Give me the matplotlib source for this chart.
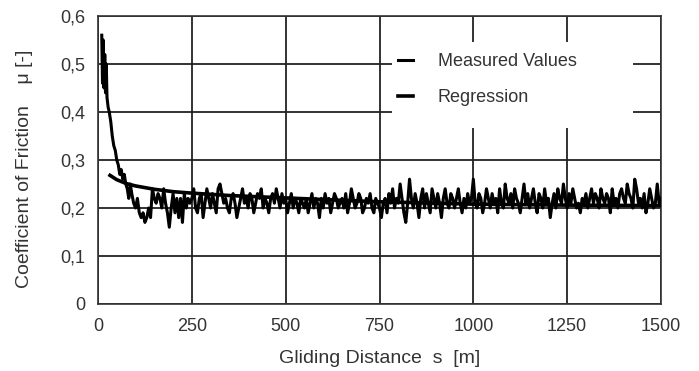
import matplotlib
matplotlib.use("Agg")
import matplotlib.pyplot as plt
from matplotlib.ticker import FuncFormatter
from matplotlib.patches import Rectangle

plt.rcParams['font.family'] = ['Liberation Sans', 'DejaVu Sans']

# Measured values: distance (m) and coefficient of friction (run-in part)
meas_x = [10, 12, 14, 16, 18, 20, 22, 24, 27, 30, 34, 38, 42, 46, 50, 54, 58, 62, 66, 70,
          74, 78, 82, 86, 90, 95, 100, 105, 110, 115, 120, 125, 130, 135, 140, 145, 150,
          155, 160, 165, 170, 175, 180, 185, 190, 195, 200, 205, 210, 215, 220, 225, 230,
          235, 240, 245]
meas_y = [0.56, 0.46, 0.55, 0.45, 0.52, 0.44, 0.50, 0.43, 0.41, 0.40, 0.38, 0.35, 0.33, 0.32,
          0.30, 0.29, 0.27, 0.28, 0.26, 0.27, 0.25, 0.24, 0.22, 0.25, 0.23, 0.21, 0.20, 0.22,
          0.19, 0.18, 0.19, 0.17, 0.18, 0.20, 0.18, 0.24, 0.22, 0.21, 0.23, 0.22, 0.20, 0.24,
          0.21, 0.19, 0.16, 0.20, 0.23, 0.19, 0.22, 0.18, 0.22, 0.17, 0.23, 0.20, 0.22, 0.21]

# Measured values, steady part (every 5 m from 250 to 1500 m)
meas_x2 = list(range(250, 1501, 5))
meas_y2 = [0.22, 0.24, 0.20, 0.19, 0.22, 0.23, 0.18, 0.21, 0.24, 0.22, 0.20, 0.23, 0.21, 0.19, 0.24, 0.25, 0.23, 0.21, 0.22, 0.20,
           0.19, 0.22, 0.23, 0.21, 0.18, 0.20, 0.22, 0.24, 0.21, 0.22, 0.20, 0.23, 0.22, 0.19, 0.21, 0.23, 0.22, 0.24, 0.20, 0.22,
           0.21, 0.19, 0.22, 0.23, 0.21, 0.24, 0.22, 0.20, 0.23, 0.21, 0.22, 0.19, 0.21, 0.23, 0.20, 0.22, 0.21, 0.19, 0.22, 0.21,
           0.20, 0.22, 0.19, 0.21, 0.23, 0.20, 0.22, 0.21, 0.18, 0.22, 0.20, 0.23, 0.21, 0.22, 0.19, 0.21, 0.23, 0.22, 0.20, 0.21,
           0.22, 0.20, 0.23, 0.19, 0.21, 0.24, 0.22, 0.20, 0.21, 0.23, 0.22, 0.19, 0.20, 0.22, 0.21, 0.23, 0.20, 0.19, 0.22, 0.21,
           0.20, 0.18, 0.21, 0.22, 0.19, 0.23, 0.21, 0.24, 0.20, 0.22, 0.21, 0.25, 0.22, 0.19, 0.17, 0.21, 0.26, 0.22, 0.20, 0.23,
           0.21, 0.18, 0.22, 0.24, 0.20, 0.23, 0.21, 0.19, 0.24, 0.22, 0.20, 0.23, 0.21, 0.18, 0.22, 0.24, 0.21, 0.20, 0.23, 0.22,
           0.20, 0.22, 0.24, 0.21, 0.19, 0.22, 0.20, 0.23, 0.21, 0.22, 0.26, 0.21, 0.20, 0.23, 0.22, 0.19, 0.21, 0.24, 0.22, 0.20,
           0.23, 0.21, 0.22, 0.19, 0.24, 0.21, 0.20, 0.25, 0.22, 0.21, 0.23, 0.20, 0.24, 0.22, 0.21, 0.19, 0.22, 0.25, 0.21, 0.23,
           0.20, 0.22, 0.24, 0.21, 0.19, 0.23, 0.22, 0.20, 0.24, 0.21, 0.22, 0.18, 0.21, 0.23, 0.20, 0.24, 0.22, 0.21, 0.25, 0.22,
           0.20, 0.23, 0.21, 0.24, 0.22, 0.20, 0.21, 0.19, 0.22, 0.21, 0.23, 0.20, 0.22, 0.24, 0.21, 0.23, 0.22, 0.20, 0.24, 0.22,
           0.21, 0.23, 0.22, 0.19, 0.24, 0.21, 0.22, 0.20, 0.23, 0.24, 0.22, 0.21, 0.25, 0.23, 0.22, 0.20, 0.26, 0.24, 0.21, 0.22,
           0.20, 0.23, 0.19, 0.21, 0.24, 0.22, 0.20, 0.21, 0.25, 0.21, 0.22]

# Regression curve
reg_x = [32, 50, 75, 100, 150, 200, 250, 350, 500, 650, 750, 900, 1000, 1250, 1500]
reg_y = [0.268, 0.259, 0.251, 0.246, 0.239, 0.234, 0.231, 0.226, 0.221, 0.216, 0.213, 0.210,
         0.208, 0.206, 0.205]

x_ticks = [0, 250, 500, 750, 1000, 1250, 1500]
y_ticks = [0, 0.1, 0.2, 0.3, 0.4, 0.5, 0.6]

TXT = '#333333'
fig = plt.figure(figsize=(6.99, 3.71), dpi=100)
ax = fig.add_axes([98/699, 1 - 304/371, (661-98)/699, (304-16)/371])

mx = meas_x + meas_x2
my = meas_y + meas_y2
ax.plot(mx, my, color='black', lw=2.2, label='Measured Values', zorder=3)
ax.plot(reg_x, reg_y, color='black', lw=2.6, label='Regression', zorder=4)

ax.set_xlim(0, 1500)
ax.set_ylim(0, 0.6)
ax.set_xticks(x_ticks)
ax.set_yticks(y_ticks)
ax.yaxis.set_major_formatter(FuncFormatter(lambda v, p: '0' if v == 0 else f'{v:.1f}'.replace('.', ',')))
ax.grid(True, color='#222222', lw=1.3, zorder=0)
ax.set_axisbelow(True)
ax.tick_params(length=0, labelsize=13, colors=TXT)
ax.tick_params(axis='y', pad=9)
ax.tick_params(axis='x', pad=10)
for s in ax.spines.values():
    s.set_color('#333333')
    s.set_linewidth(1.2)

ax.set_xlabel('Gliding Distance  s  [m]', fontsize=14, color=TXT, labelpad=11)
ax.set_ylabel('Coefficient of Friction    \u03bc [-]', fontsize=14, color=TXT, labelpad=20, y=0.47)

# white background behind the legend, covering the grid
ax.add_patch(Rectangle((0.522, 0.611), 0.428, 0.299, transform=ax.transAxes,
                       facecolor='white', edgecolor='none', zorder=1))

leg = ax.legend(loc='upper left', bbox_to_anchor=(0.533, 0.872), frameon=False, fontsize=13,
                handlelength=0.8, handletextpad=1.4, labelspacing=1.05, borderpad=0,
                borderaxespad=0)
for t in leg.get_texts():
    t.set_color(TXT)

fig.savefig('out.png', dpi=100)
